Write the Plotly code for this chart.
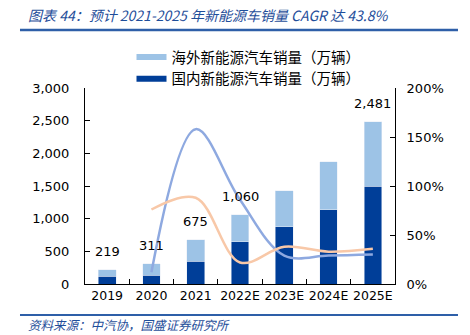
import plotly.graph_objects as go

years = ["2019", "2020", "2021", "2022E", "2023E", "2024E", "2025E"]
domestic = [120, 137, 352, 650, 880, 1140, 1500]
overseas = [99, 174, 323, 410, 550, 730, 981]
totals = [219, 311, 675, 1060, 1430, 1870, 2481]
label_years = ["2019", "2020", "2021", "2022E", "2025E"]
label_vals = [219, 311, 675, 1060, 2481]
growth_years = ["2020", "2021", "2022E", "2023E", "2024E", "2025E"]
domestic_growth = [0.12, 1.58, 0.86, 0.29, 0.29, 0.30]
overseas_growth = [0.76, 0.88, 0.22, 0.38, 0.33, 0.36]

C_DARK = "#003E98"
C_LIGHT = "#9DC3E6"
C_BLINE = "#8EA9E0"
C_OLINE = "#F8C8A8"
C_TITLE = "#1F4E9A"
FONT = "DejaVu Sans, Noto Sans CJK SC"
CJK = "Noto Sans CJK SC"

fig = go.Figure()
fig.add_bar(x=years, y=domestic, marker_color=C_DARK, showlegend=False)
fig.add_bar(x=years, y=overseas, marker_color=C_LIGHT, showlegend=False)
fig.add_scatter(x=growth_years, y=domestic_growth, yaxis="y2", mode="lines",
                line=dict(color=C_BLINE, width=2.5, shape="spline", smoothing=1.0),
                showlegend=False)
fig.add_scatter(x=growth_years, y=overseas_growth, yaxis="y2", mode="lines",
                line=dict(color=C_OLINE, width=2.5, shape="spline", smoothing=1.0),
                showlegend=False)
# legend entries (no visible data)
fig.add_scatter(x=[years[0]], y=[None], mode="lines", line=dict(color=C_LIGHT, width=6),
                name="海外新能源汽车销量（万辆）")
fig.add_scatter(x=[years[0]], y=[None], mode="lines", line=dict(color=C_DARK, width=6),
                name="国内新能源汽车销量（万辆）")

annotations = []
for yr, v in zip(label_years, label_vals):
    annotations.append(dict(x=years.index(yr), y=v, xref="x", yref="y", text=f"{v:,}",
                            showarrow=False, yanchor="bottom", yshift=9,
                            font=dict(size=13, color="#000", family=FONT)))
annotations.append(dict(x=-0.19, y=1.372, xref="paper", yref="paper", xanchor="left",
                        yanchor="middle", showarrow=False,
                        text="<i>图表 44：预计 2021-2025 年新能源车销量 CAGR 达 43.8%</i>",
                        font=dict(size=14, color=C_TITLE, family=CJK)))
annotations.append(dict(x=-0.19, y=-0.209, xref="paper", yref="paper", xanchor="left",
                        yanchor="middle", showarrow=False,
                        text="<i>资料来源：中汽协，国盛证券研究所</i>",
                        font=dict(size=12.5, color=C_TITLE, family=CJK)))

shapes = [
    dict(type="line", xref="paper", yref="paper", x0=-0.2097, x1=1.2032, y0=1.296, y1=1.296,
         line=dict(color="#2E5FA8", width=2.5)),
    dict(type="line", xref="paper", yref="paper", x0=-0.2097, x1=1.2032, y0=-0.158, y1=-0.158,
         line=dict(color="#2E5FA8", width=2)),
]

fig.update_layout(
    width=470, height=335,
    margin=dict(l=85, r=75, t=88, b=51),
    barmode="stack", bargap=0.6,
    plot_bgcolor="white", paper_bgcolor="white",
    font=dict(family=FONT, size=13, color="#000"),
    showlegend=True,
    legend=dict(x=0.15, y=1.24, xanchor="left", yanchor="top", bgcolor="rgba(0,0,0,0)",
                font=dict(family=CJK, size=14.5), traceorder="normal", tracegroupgap=0,
                itemwidth=30),
    annotations=annotations, shapes=shapes,
    xaxis=dict(type="category", categoryorder="array", categoryarray=years,
               range=[-0.5, 6.5], tickangle=0,
               showline=True, linecolor="#000", linewidth=1,
               ticks="inside", tickson="boundaries", ticklen=5, tickcolor="#000",
               showgrid=False, tickfont=dict(size=12.5)),
    yaxis=dict(range=[0, 3000], dtick=500, tickformat=",", showline=True, linecolor="#000",
               linewidth=1, ticks="inside", ticklen=5, tickcolor="#000", showgrid=False,
               zeroline=False, tickfont=dict(size=13), ticklabelstandoff=12),
    yaxis2=dict(range=[0, 2], dtick=0.5, tickformat=".0%", overlaying="y", side="right",
                showline=True, linecolor="#000", linewidth=1, ticks="inside", ticklen=5,
                tickcolor="#000", showgrid=False, zeroline=False, tickfont=dict(size=13),
                ticklabelstandoff=8),
)

fig.write_html("out.html")
